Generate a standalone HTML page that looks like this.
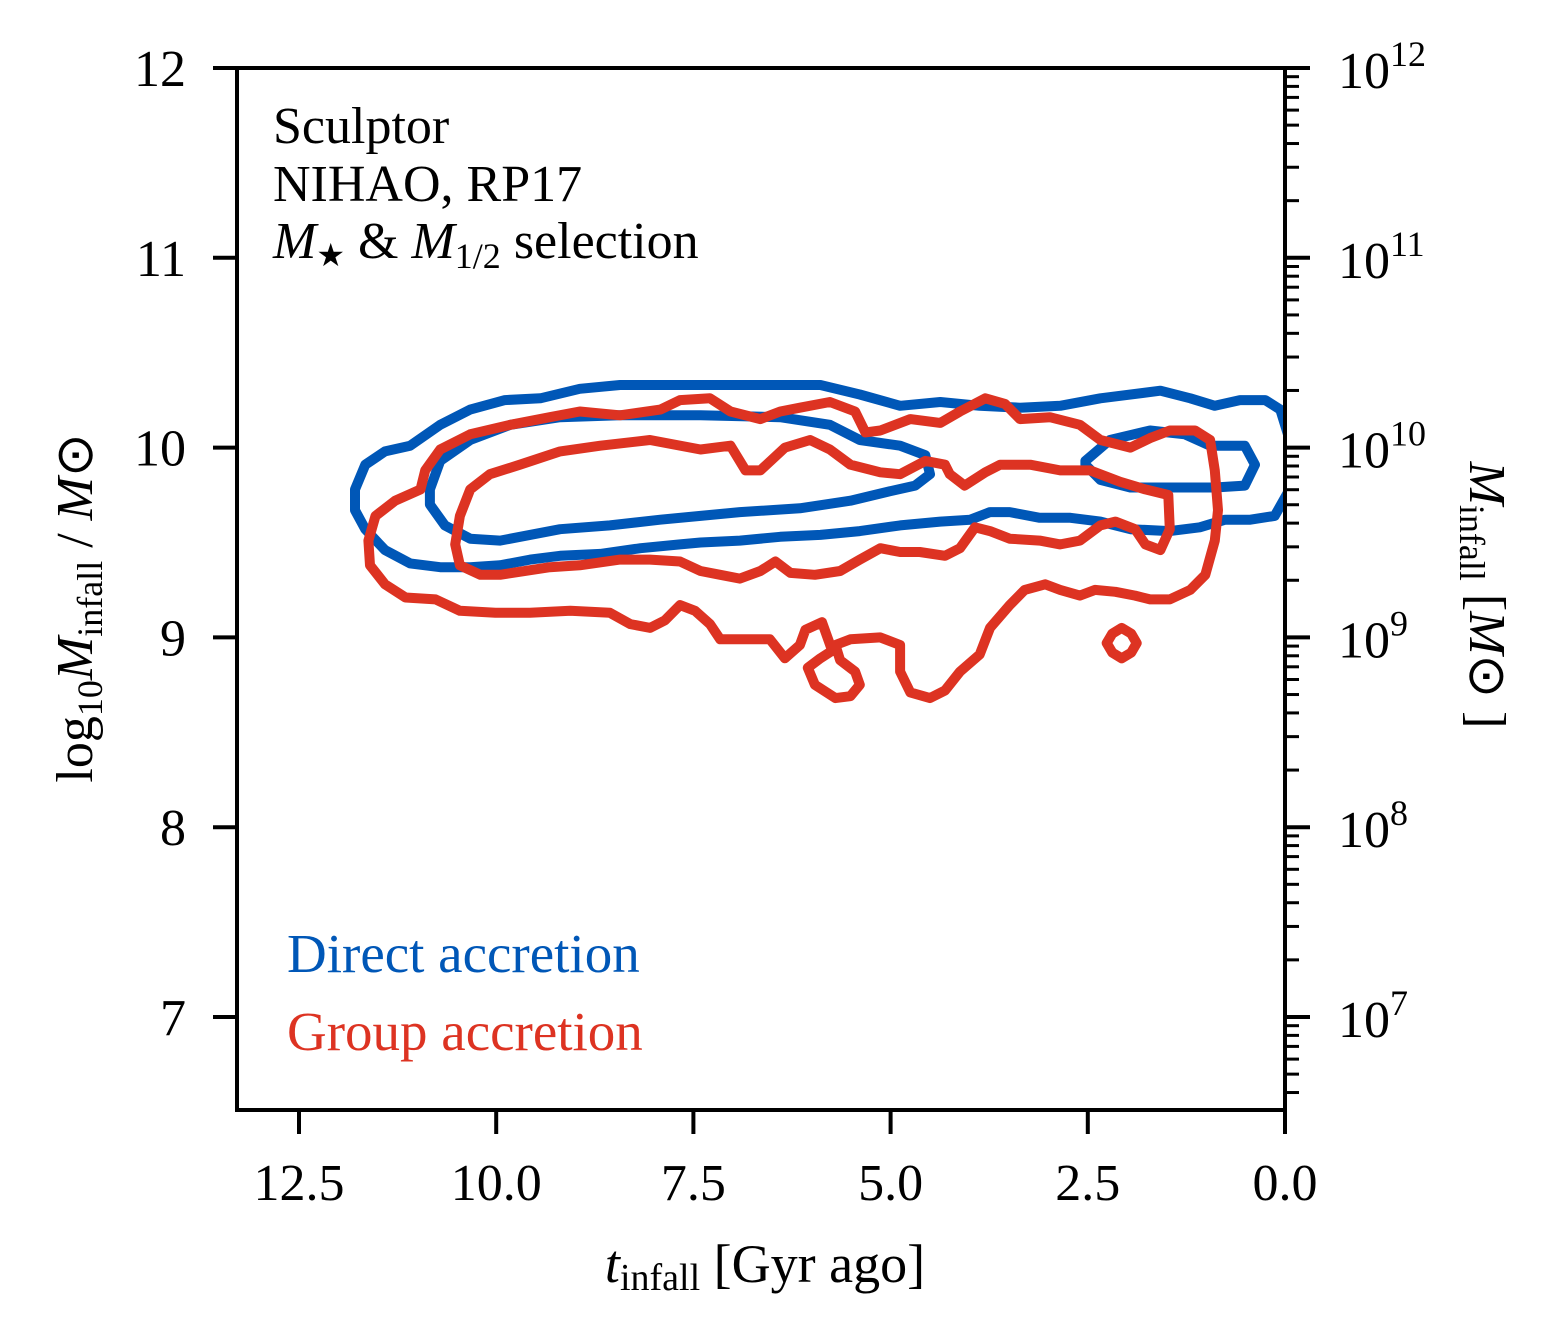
<!DOCTYPE html>
<html><head><meta charset="utf-8"><style>
html,body{margin:0;padding:0;background:#fff;}
svg{display:block;font-family:"Liberation Serif",serif;}
</style></head><body>
<svg id="chart" width="1560" height="1344" viewBox="0 0 1560 1344" xmlns="http://www.w3.org/2000/svg">
<defs><clipPath id="plotclip"><rect x="237" y="68" width="1048" height="1042"/></clipPath></defs>
<g id="contours" clip-path="url(#plotclip)"></g>
<rect x="237" y="68" width="1048" height="1042" fill="none" stroke="#000" stroke-width="4"/>
<g id="axes"></g>
<g font-size="52">
<text x="273" y="143">Sculptor</text>
<text x="273" y="201">NIHAO, RP17</text>
<text x="273" y="258"><tspan font-style="italic">M</tspan><tspan font-size="32" dy="8">★</tspan><tspan dy="-8"> &amp; </tspan><tspan font-style="italic">M</tspan><tspan font-size="36" dy="10">1/2</tspan><tspan dy="-10"> selection</tspan></text>
</g>
<text x="287" y="972" font-size="55" fill="#0057b7">Direct accretion</text>
<text x="287" y="1050" font-size="55" fill="#dd3322">Group accretion</text>
<text x="765" y="1282" font-size="54" text-anchor="middle"><tspan font-style="italic">t</tspan><tspan font-size="38" dy="8">infall</tspan><tspan dy="-8"> [Gyr ago]</tspan></text>
<text transform="translate(92,608) rotate(-90)" font-size="52" text-anchor="middle">log<tspan font-size="36" dy="10">10</tspan><tspan dy="-10" font-style="italic">M</tspan><tspan font-size="36" dy="10">infall</tspan><tspan dy="-10"> / </tspan><tspan font-style="italic">M</tspan><tspan>⊙</tspan></text>
<text transform="translate(1470,595) rotate(90)" font-size="52" text-anchor="middle"><tspan font-style="italic">M</tspan><tspan font-size="36" dy="10">infall</tspan><tspan dy="-10"> [</tspan><tspan font-style="italic">M</tspan><tspan>⊙ ]</tspan></text>
</svg>
<script>
const xTicks=[12.5,10.0,7.5,5.0,2.5,0.0];
const yTicks=[7,8,9,10,11,12];
const rightExp=[7,8,9,10,11,12];
const blueOuterT=[11.79,11.66,11.41,11.09,10.71,10.33,9.89,9.44,8.94,8.43,7.41,6.65,5.89,5.39,4.88,4.37,3.87,3.36,2.85,2.34,1.58,1.20,0.89,0.57,0.25,0.06,-0.06,-0.06,0.13,0.44,0.76,1.08,1.46,1.96,2.34,2.72,3.11,3.49,3.74,3.99,4.37,4.88,5.39,5.89,6.40,6.91,7.41,7.67,8.17,8.68,9.19,9.57,9.95,10.33,10.71,11.09,11.41,11.66,11.79];
const blueOuterM=[9.78,9.91,9.98,10.01,10.12,10.20,10.25,10.26,10.31,10.33,10.33,10.33,10.33,10.28,10.22,10.24,10.22,10.21,10.22,10.26,10.30,10.26,10.22,10.25,10.25,10.20,10.04,9.78,9.64,9.62,9.62,9.58,9.56,9.57,9.61,9.63,9.63,9.66,9.66,9.62,9.61,9.59,9.56,9.54,9.53,9.51,9.50,9.49,9.47,9.44,9.43,9.41,9.38,9.37,9.37,9.39,9.46,9.57,9.67];
const blueInnerT=[10.84,10.71,10.33,9.82,9.19,8.43,7.41,6.40,5.77,5.39,4.88,4.56,4.50,4.69,5.01,5.51,6.15,6.91,7.41,7.92,8.56,9.19,9.95,10.33,10.65,10.84];
const blueInnerM=[9.78,9.93,10.04,10.12,10.16,10.17,10.17,10.16,10.12,10.04,10.01,9.96,9.86,9.80,9.77,9.72,9.68,9.66,9.64,9.62,9.59,9.57,9.51,9.52,9.59,9.70];
const blueSmallT=[2.53,2.22,1.71,1.27,0.95,0.51,0.38,0.51,0.89,1.27,1.58,1.96,2.34,2.53];
const blueSmallM=[9.93,10.04,10.09,10.07,10.01,10.01,9.91,9.80,9.79,9.79,9.79,9.79,9.83,9.91];
const redOuterT=[11.62,11.53,11.28,10.96,10.90,10.71,10.33,9.82,9.32,8.94,8.43,7.92,7.67,7.29,7.03,6.65,6.40,6.15,5.77,5.45,5.32,5.13,4.75,4.37,4.12,3.80,3.55,3.36,2.98,2.60,2.34,1.96,1.71,1.46,1.14,0.95,0.89,0.85,0.89,1.01,1.20,1.46,1.71,1.90,2.15,2.41,2.60,2.85,3.04,3.30,3.49,3.74,3.87,4.12,4.31,4.50,4.75,4.88,4.88,5.13,5.51,5.70,5.64,5.45,5.39,5.51,5.70,5.96,6.05,5.89,5.74,5.87,6.08,6.15,6.34,6.53,6.78,7.16,7.29,7.48,7.67,7.86,8.05,8.30,8.56,9.06,9.57,10.01,10.46,10.77,11.15,11.41,11.60];
const redOuterM=[9.51,9.64,9.72,9.78,9.88,9.99,10.07,10.12,10.16,10.19,10.17,10.20,10.25,10.26,10.19,10.15,10.19,10.21,10.24,10.19,10.08,10.09,10.15,10.13,10.19,10.26,10.23,10.15,10.16,10.12,10.04,10.00,10.05,10.09,10.09,10.04,9.88,9.67,9.51,9.33,9.25,9.20,9.20,9.22,9.24,9.25,9.22,9.25,9.28,9.25,9.17,9.05,8.91,8.82,8.72,8.68,8.71,8.82,8.96,9.00,8.99,8.96,8.88,8.82,8.75,8.69,8.68,8.75,8.84,8.89,8.93,9.08,9.04,8.96,8.89,8.99,8.99,8.99,9.07,9.14,9.17,9.09,9.05,9.07,9.13,9.14,9.13,9.13,9.14,9.20,9.21,9.28,9.38];
const redInnerT=[10.52,10.46,10.33,10.08,9.70,9.19,8.68,8.05,7.41,7.03,6.84,6.65,6.34,6.02,5.77,5.51,5.13,4.88,4.56,4.31,4.25,4.06,3.80,3.61,3.23,2.85,2.47,2.09,1.77,1.48,1.46,1.58,1.77,1.90,2.15,2.34,2.60,2.85,3.11,3.49,3.74,3.93,4.12,4.31,4.63,4.88,5.13,5.39,5.64,5.96,6.27,6.46,6.65,6.91,7.16,7.41,7.67,8.05,8.43,8.94,9.32,9.95,10.20,10.46];
const redInnerM=[9.49,9.64,9.78,9.86,9.91,9.98,10.01,10.04,9.99,10.01,9.88,9.88,10.00,10.04,9.99,9.91,9.87,9.86,9.93,9.91,9.86,9.80,9.87,9.91,9.91,9.88,9.88,9.82,9.78,9.75,9.57,9.46,9.49,9.57,9.61,9.59,9.51,9.49,9.51,9.52,9.56,9.58,9.47,9.43,9.45,9.45,9.47,9.41,9.35,9.33,9.34,9.40,9.35,9.31,9.33,9.35,9.40,9.41,9.41,9.38,9.37,9.33,9.33,9.38];
const redSmallT=[2.07,1.95,1.88,1.95,2.07,2.19,2.26,2.19];
const redSmallM=[9.05,9.02,8.97,8.92,8.89,8.92,8.97,9.02];

const X0=237,X1=1285,Y0=68,Y1=1110,TMAX=13.286,TMIN=0,MMIN=6.51,MMAX=12;
function xs(t){return X1-(t-TMIN)/(TMAX-TMIN)*(X1-X0);}
function ys(m){return Y1-(m-MMIN)/(MMAX-MMIN)*(Y1-Y0);}
const NS='http://www.w3.org/2000/svg';
function mk(tag,attrs,parent){const e=document.createElementNS(NS,tag);for(const k in attrs)e.setAttribute(k,attrs[k]);parent.appendChild(e);return e;}
const cg=document.getElementById('contours');
function contour(T,M,color,name){
  let d='';for(let i=0;i<T.length;i++){d+=(i?'L':'M')+xs(T[i]).toFixed(1)+','+ys(M[i]).toFixed(1);}d+='Z';
  const p=mk('path',{d:d,fill:'none',stroke:color,'stroke-width':10,'stroke-linejoin':'round'},cg);
  
  
}
const BLUE='#0057b7',RED='#dd3322';
contour(blueOuterT,blueOuterM,BLUE,'direct-contour-outer');
contour(blueInnerT,blueInnerM,BLUE,'direct-contour-inner');
contour(blueSmallT,blueSmallM,BLUE,'direct-contour-right');
contour(redOuterT,redOuterM,RED,'group-contour-outer');
contour(redInnerT,redInnerM,RED,'group-contour-inner');
contour(redSmallT,redSmallM,RED,'group-contour-island');

const ax=document.getElementById('axes');
xTicks.forEach(t=>{
  const x=xs(t);
  const l=mk('line',{x1:x,x2:x,y1:Y1,y2:Y1+24,stroke:'#000','stroke-width':4},ax);
  
  
  const tx=mk('text',{x:x,y:1200,'font-size':52,'text-anchor':'middle'},ax);
  tx.textContent=t.toFixed(1);
  
  
});
yTicks.forEach(m=>{
  const y=ys(m);
  const l=mk('line',{x1:X0-24,x2:X0,y1:y,y2:y,stroke:'#000','stroke-width':4},ax);
  
  
  const tx=mk('text',{x:186,y:y+18,'font-size':52,'text-anchor':'end'},ax);
  tx.textContent=String(m);
  
  
});
rightExp.forEach(e=>{
  const y=ys(e);
  const l=mk('line',{x1:X1,x2:X1+25,y1:y,y2:y,stroke:'#000','stroke-width':4},ax);
  
  
  const tx=mk('text',{x:1338,y:y+20,'font-size':52},ax);
  
  
  const a=mk('tspan',{},tx);a.textContent='10';
  const b=mk('tspan',{'font-size':36,dy:-22},tx);b.textContent=String(e);
});
for(let e=6;e<=11;e++){for(let k=2;k<=9;k++){
  const m=e+Math.log10(k);if(m<MMIN||m>MMAX)continue;
  const y=ys(m);
  const l=mk('line',{x1:X1,x2:X1+14,y1:y,y2:y,stroke:'#000','stroke-width':3},ax);
  
  
}}
</script>
</body></html>
